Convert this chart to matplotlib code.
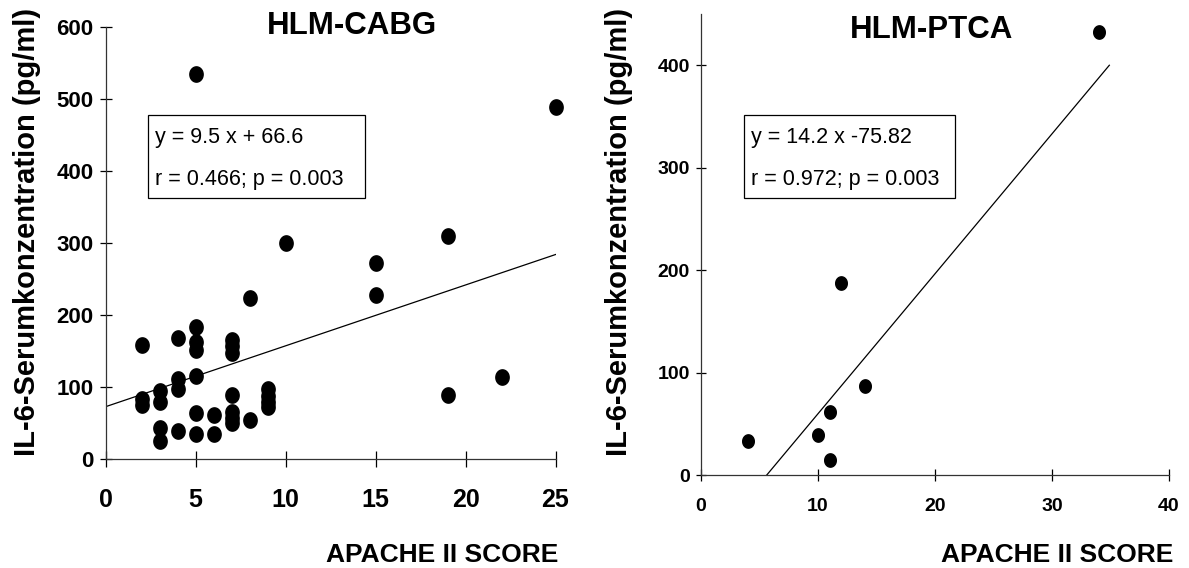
import numpy as np
import matplotlib
matplotlib.use("Agg")
import matplotlib.pyplot as plt
from matplotlib.path import Path
from matplotlib.patches import Rectangle

plt.rcParams['font.family'] = ['Liberation Sans', 'DejaVu Sans']

# HLM-CABG
cabg_x = [5, 25, 10, 19, 15, 15, 8, 22, 19,
          2, 2, 2,
          3, 3, 3, 3,
          4, 4, 4, 4,
          5, 5, 5, 5, 5, 5,
          6, 6,
          7, 7, 7, 7, 7, 7, 7,
          8,
          9, 9, 9, 9]
cabg_y = [535, 489, 300, 310, 272, 228, 224, 114, 89,
          158, 84, 75,
          95, 80, 44, 25,
          168, 112, 98, 39,
          183, 163, 151, 115, 64, 35,
          61, 35,
          165, 157, 148, 89, 66, 57, 50,
          54,
          98, 88, 80, 72]
cabg_fit_x = [0, 25]
cabg_fit_y = [73, 284]

# HLM-PTCA
ptca_x = [34, 12, 14, 11, 10, 4, 11]
ptca_y = [432, 188, 87, 62, 39, 33, 15]
ptca_fit_x = [5.6, 34.9]
ptca_fit_y = [0, 400]

cabg_text = ["y = 9.5 x + 66.6", "r = 0.466; p = 0.003"]
ptca_text = ["y = 14.2 x -75.82", "r = 0.972; p = 0.003"]

W, H = 1189, 568


def fx(px):
    return px / W


def fy(py):
    return 1 - py / H


# slightly tall ellipse marker
t = np.linspace(0, 2 * np.pi, 60)
ell = Path(np.column_stack([0.87 * np.cos(t), np.sin(t)]), closed=True)

fig = plt.figure(figsize=(W / 100, H / 100), dpi=100)

ax1 = fig.add_axes([fx(105.7), fy(459.3), fx(555.5) - fx(105.7), fy(26.7) - fy(459.3)])
ax2 = fig.add_axes([fx(701), fy(475.3), fx(1169) - fx(701), fy(14) - fy(475.3)])

ax1.plot(cabg_x, cabg_y, ls='none', marker=ell, ms=11, color='black', clip_on=False)
ax1.plot(cabg_fit_x, cabg_fit_y, color='black', lw=0.9)
ax1.set_xlim(0, 25)
ax1.set_ylim(0, 600)
ax1.set_xticks([0, 5, 10, 15, 20, 25])
ax1.set_yticks([0, 100, 200, 300, 400, 500, 600])

ax2.plot(ptca_x, ptca_y, ls='none', marker=ell, ms=9.6, color='black', clip_on=False)
ax2.plot(ptca_fit_x, ptca_fit_y, color='black', lw=0.9)
ax2.set_xlim(0, 40)
ax2.set_ylim(0, 450)
ax2.set_xticks([0, 10, 20, 30, 40])
ax2.set_yticks([0, 100, 200, 300, 400])

for ax in (ax1, ax2):
    ax.spines['top'].set_visible(False)
    ax.spines['right'].set_visible(False)
    for s in ('left', 'bottom'):
        ax.spines[s].set_linewidth(0.9)
        ax.spines[s].set_color('#333333')

ax1.tick_params(axis='x', direction='inout', length=11.5, width=0.9, labelsize=18, pad=15)
ax1.tick_params(axis='y', direction='inout', length=8.4, width=0.9, labelsize=16, pad=4.7)
ax2.tick_params(axis='x', direction='inout', length=9, width=0.9, labelsize=14, pad=11.5)
ax2.tick_params(axis='y', direction='inout', length=7, width=0.9, labelsize=14, pad=4.4)
for ax in (ax1, ax2):
    for lab in ax.get_xticklabels() + ax.get_yticklabels():
        lab.set_fontweight('bold')

# titles
fig.text(fx(352), fy(26), "HLM-CABG", fontsize=22.5, fontweight='bold', ha='center', va='center')
fig.text(fx(932), fy(30), "HLM-PTCA", fontsize=22.5, fontweight='bold', ha='center', va='center')

# y labels
ylab = "IL-6-Serumkonzentration (pg/ml)"
fig.text(fx(27), fy(232), ylab, fontsize=21, fontweight='bold', rotation=90, ha='center', va='center')
fig.text(fx(619), fy(232), ylab, fontsize=21, fontweight='bold', rotation=90, ha='center', va='center')

# x labels
fig.text(fx(558), fy(555), "APACHE II SCORE", fontsize=19, fontweight='bold', ha='right', va='center')
fig.text(fx(1173), fy(555), "APACHE II SCORE", fontsize=19, fontweight='bold', ha='right', va='center')

# equation boxes
for (x0, x1, lines) in [(147.5, 365, cabg_text), (743.5, 955, ptca_text)]:
    fig.add_artist(Rectangle((fx(x0), fy(197.5)), fx(x1) - fx(x0), fy(115) - fy(197.5),
                             transform=fig.transFigure, fill=False, ec='black', lw=0.9))
    fig.text(fx(x0 + 7.5), fy(138), lines[0], fontsize=15.5, ha='left', va='center')
    fig.text(fx(x0 + 7.5), fy(179), lines[1], fontsize=15.5, ha='left', va='center')

fig.savefig("out.png", dpi=100)
